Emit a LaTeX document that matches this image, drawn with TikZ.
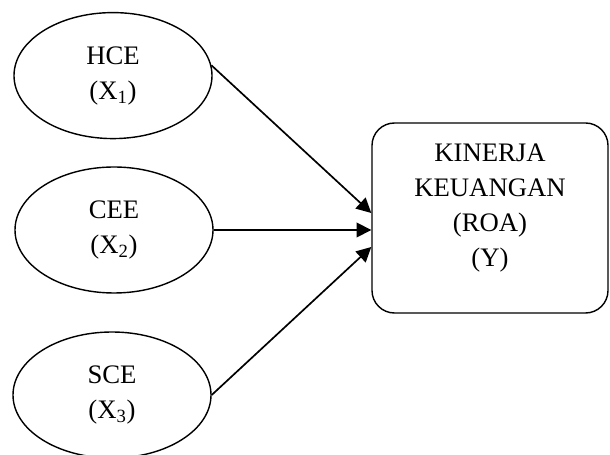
\documentclass[tikz,border=0pt]{standalone}
\usepackage{fontspec}
\setmainfont{Liberation Serif}
\usepackage{tikz}
\usetikzlibrary{
    positioning,
    calc,
    shapes.geometric,
    arrows.meta
}

\tikzset{
    variabel/.style={
        draw,
        ellipse,
        line width=1pt,
        minimum width=4.95cm,
        minimum height=3.15cm,
        align=center,
        font=\fontsize{19}{25}\selectfont
    },
    kinerjabox/.style={
        draw,
        rounded corners=16pt,
        line width=1pt,
        minimum width=5.9cm,
        minimum height=4.75cm,
        text depth=0.65cm,
        align=center,
        font=\fontsize{19}{25}\selectfont
    },
    panah/.style={
        line width=1.2pt,
        -{Triangle[length=10.5pt,width=10.5pt]}
    }
}

\begin{document}
\begin{tikzpicture}
    \useasboundingbox (0,0) rectangle (15.25,11.35);

    % variabel independen
    \node[variabel] (hce) at (2.825,9.46) {HCE\\(X\textsubscript{1})};
    \node[variabel] (cee) at (2.85,5.6) {CEE\\(X\textsubscript{2})};
    \node[variabel] (sce) at (2.8,1.475) {SCE\\(X\textsubscript{3})};

    % variabel dependen
    \node[kinerjabox] (kinerja) at (12.25,5.9) {
        KINERJA\\
        KEUANGAN\\
        (ROA)\\
        (Y)
    };

    \draw[panah] (hce.6) -- ([yshift=0.125cm]kinerja.west);
    \draw[panah] (cee.east) -- ([yshift=-0.3cm]kinerja.west);
    \draw[panah] (sce.east) -- ([yshift=-0.725cm]kinerja.west);
\end{tikzpicture}
\end{document}
